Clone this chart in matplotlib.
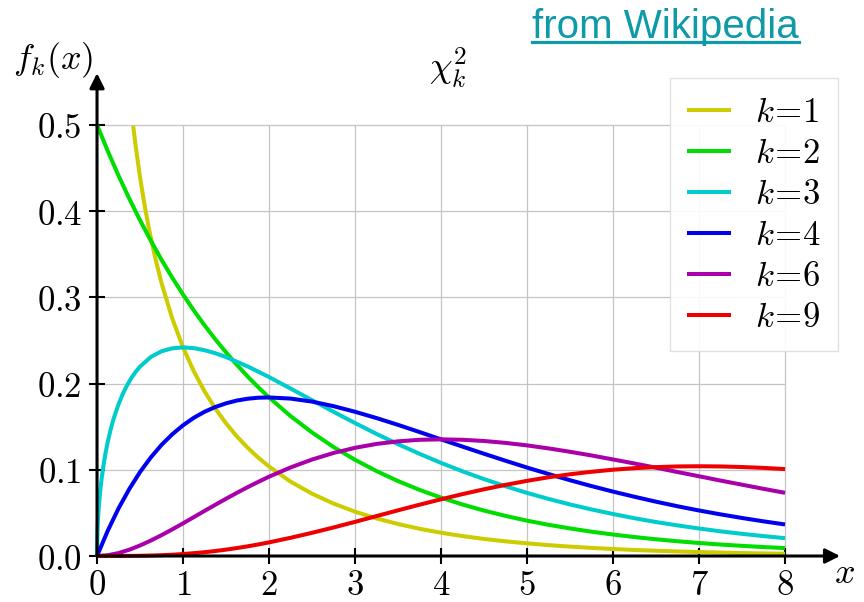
import matplotlib
matplotlib.use("Agg")
import matplotlib.pyplot as plt
from matplotlib.lines import Line2D

plt.rcParams['mathtext.fontset'] = 'cm'

# chi-squared densities
x_grid = [0, 0.125, 0.25, 0.375, 0.5, 0.625, 0.75, 0.875, 1, 1.125, 1.25, 1.375,
          1.5, 1.625, 1.75, 1.875, 2, 2.25, 2.5, 2.75, 3,
          3.25, 3.5, 3.75, 4, 4.25, 4.5, 4.75, 5, 5.25, 5.5, 5.75, 6,
          6.25, 6.5, 6.75, 7, 7.25, 7.5, 7.75, 8]

x_k1 = [0.42, 0.45, 0.5, 0.55, 0.6, 0.675, 0.75, 0.875, 1, 1.125, 1.25, 1.375,
        1.5, 1.625, 1.75, 1.875, 2, 2.25, 2.5, 2.75, 3,
        3.25, 3.5, 3.75, 4, 4.25, 4.5, 4.75, 5, 5.25, 5.5, 5.75, 6,
        6.25, 6.5, 6.75, 7, 7.25, 7.5, 7.75, 8]
f_k1 = [0.4990, 0.4749, 0.4394, 0.4086, 0.3815, 0.3465, 0.3166, 0.2754, 0.2420,
        0.2143, 0.1910, 0.1711, 0.1539, 0.1389, 0.1257, 0.1141, 0.1038,
        0.0863, 0.0723, 0.0608, 0.0514, 0.0436, 0.0371, 0.0316, 0.0270, 0.0231,
        0.0198, 0.0170, 0.0147, 0.0126, 0.0109, 0.0094, 0.0081, 0.0070, 0.0061,
        0.0053, 0.0046, 0.0040, 0.0034, 0.0030, 0.0026]

f_k2 = [0.5, 0.4697, 0.4412, 0.4145, 0.3894, 0.3658, 0.3436, 0.3228, 0.3033,
        0.2849, 0.2676, 0.2514, 0.2362, 0.2219, 0.2084, 0.1958, 0.1839,
        0.1623, 0.1433, 0.1264, 0.1116, 0.0985, 0.0869, 0.0767, 0.0677, 0.0597,
        0.0527, 0.0465, 0.0410, 0.0362, 0.0320, 0.0282, 0.0249, 0.0220, 0.0194,
        0.0171, 0.0151, 0.0133, 0.0118, 0.0104, 0.0092]

x_k3 = [0, 0.005, 0.01, 0.02, 0.035, 0.05, 0.075, 0.1, 0.125, 0.15, 0.175, 0.2,
        0.25, 0.3, 0.35, 0.4, 0.45, 0.5, 0.625, 0.75, 0.875, 1, 1.125, 1.25,
        1.375, 1.5, 1.75, 2, 2.25, 2.5, 2.75, 3, 3.25, 3.5, 3.75, 4, 4.25, 4.5,
        4.75, 5, 5.25, 5.5, 5.75, 6, 6.25, 6.5, 6.75, 7, 7.25, 7.5, 7.75, 8]
f_k3 = [0, 0.0281, 0.0397, 0.0559, 0.0733, 0.0870, 0.1052, 0.1200, 0.1325, 0.1433,
        0.1529, 0.1614, 0.1760, 0.1881, 0.1981, 0.2066, 0.2137, 0.2197, 0.2308,
        0.2375, 0.2409, 0.2420, 0.2411, 0.2387, 0.2352, 0.2308, 0.2200, 0.2076,
        0.1943, 0.1807, 0.1673, 0.1542, 0.1416, 0.1297, 0.1185, 0.1080, 0.0982,
        0.0892, 0.0809, 0.0732, 0.0662, 0.0598, 0.0540, 0.0487, 0.0438, 0.0394,
        0.0355, 0.0319, 0.0286, 0.0257, 0.0231, 0.0207]

f_k4 = [0, 0.0294, 0.0552, 0.0777, 0.0974, 0.1143, 0.1289, 0.1412, 0.1516,
        0.1603, 0.1673, 0.1728, 0.1771, 0.1803, 0.1824, 0.1836, 0.1839,
        0.1826, 0.1791, 0.1738, 0.1673, 0.1600, 0.1521, 0.1438, 0.1353, 0.1269,
        0.1186, 0.1105, 0.1026, 0.0951, 0.0879, 0.0811, 0.0747, 0.0687, 0.0630,
        0.0577, 0.0528, 0.0483, 0.0441, 0.0402, 0.0366]

f_k6 = [0, 0.0009, 0.0034, 0.0073, 0.0122, 0.0179, 0.0242, 0.0309, 0.0379,
        0.0451, 0.0523, 0.0594, 0.0664, 0.0732, 0.0798, 0.0860, 0.0920,
        0.1027, 0.1119, 0.1195, 0.1255, 0.1300, 0.1330, 0.1348, 0.1353, 0.1348,
        0.1334, 0.1312, 0.1283, 0.1248, 0.1209, 0.1166, 0.1120, 0.1073, 0.1024,
        0.0974, 0.0925, 0.0875, 0.0827, 0.0779, 0.0733]

f_k9 = [0, 0.000002, 0.000026, 0.00010, 0.00026, 0.00054, 0.00095, 0.0015, 0.0023,
        0.0033, 0.0044, 0.0058, 0.0074, 0.0092, 0.0112, 0.0134, 0.0158,
        0.0211, 0.0269, 0.0331, 0.0396, 0.0463, 0.0530, 0.0595, 0.0658,
        0.0718, 0.0774, 0.0825, 0.0872, 0.0913, 0.0948, 0.0977, 0.1001, 0.1019,
        0.1031, 0.1039, 0.1041, 0.1039, 0.1032, 0.1022, 0.1008]

series = [
    (x_k1, f_k1, '#cccc00', '$k\\!=\\!1$'),
    (x_grid, f_k2, '#00dd00', '$k\\!=\\!2$'),
    (x_k3, f_k3, '#00cccc', '$k\\!=\\!3$'),
    (x_grid, f_k4, '#0000ee', '$k\\!=\\!4$'),
    (x_grid, f_k6, '#aa00aa', '$k\\!=\\!6$'),
    (x_grid, f_k9, '#ee0000', '$k\\!=\\!9$'),
]

x_ticks = [0, 1, 2, 3, 4, 5, 6, 7, 8]
y_ticks = [0.0, 0.1, 0.2, 0.3, 0.4, 0.5]
y_tick_labels = ['0.0', '0.1', '0.2', '0.3', '0.4', '0.5']

fig = plt.figure(figsize=(8.64, 6.02), dpi=100)
ax = fig.add_axes([0.1123, 0.0764, 0.861, 0.802])
ax.set_xlim(0, 8.65)
ax.set_ylim(0, 0.56)

# grid only inside the data box
ax.vlines(x_ticks[1:], 0, 0.5, color='#c4c4c4', lw=0.9, zorder=0)
ax.hlines(y_ticks[1:], 0, 8, color='#c4c4c4', lw=0.9, zorder=0)

for xs, ys, col, lab in series:
    ax.plot(xs, ys, color=col, lw=2.9, label=lab, clip_on=False,
            solid_capstyle='butt', solid_joinstyle='round', zorder=3)

for s in ax.spines.values():
    s.set_visible(False)

ax.set_xticks(x_ticks)
ax.set_xticklabels(['$%d$' % t for t in x_ticks])
ax.set_yticks(y_ticks)
ax.set_yticklabels(['$%s$' % t for t in y_tick_labels])
ax.tick_params(direction='inout', length=11.5, width=1.5, labelsize=25)
ax.tick_params(axis='x', pad=3)
ax.tick_params(axis='y', pad=5)

arrow = dict(arrowstyle='-|>', color='black', lw=2.2, mutation_scale=22,
             shrinkA=0, shrinkB=0)
ax.annotate('', xy=(8.64, 0), xytext=(0, 0), arrowprops=arrow,
            annotation_clip=False, zorder=5)
ax.annotate('', xy=(0, 0.56), xytext=(0, 0), arrowprops=arrow,
            annotation_clip=False, zorder=5)

fig.text(53 / 864, 1 - 60 / 602, '$f_k(x)$', fontsize=26, ha='center', va='center')
fig.text(448 / 864, 1 - 68 / 602, '$\\chi^2_k$', fontsize=26, ha='center', va='center')
fig.text(845 / 864, 1 - 573 / 602, '$x$', fontsize=26, ha='center', va='center')

leg = ax.legend(loc='upper right', bbox_to_anchor=(838 / 864, 1 - 78 / 602),
                bbox_transform=fig.transFigure, fontsize=25, frameon=True,
                fancybox=False, framealpha=0.9, edgecolor='#dddddd',
                handlelength=1.25, handletextpad=0.7, labelspacing=0.2,
                borderaxespad=0, borderpad=0.5)
leg.get_frame().set_linewidth(1)

src = fig.text(532 / 864, 1 - 38 / 602, 'from Wikipedia', fontsize=29,
               family='Liberation Sans', color='#0e9aa7', ha='left', va='baseline')
fig.canvas.draw()
bb = src.get_window_extent().transformed(fig.transFigure.inverted())
fig.add_artist(Line2D([bb.x0, bb.x1], [1 - 42 / 602, 1 - 42 / 602],
                      color='#0e9aa7', lw=2.3, transform=fig.transFigure))

fig.savefig('out.png', dpi=100)
